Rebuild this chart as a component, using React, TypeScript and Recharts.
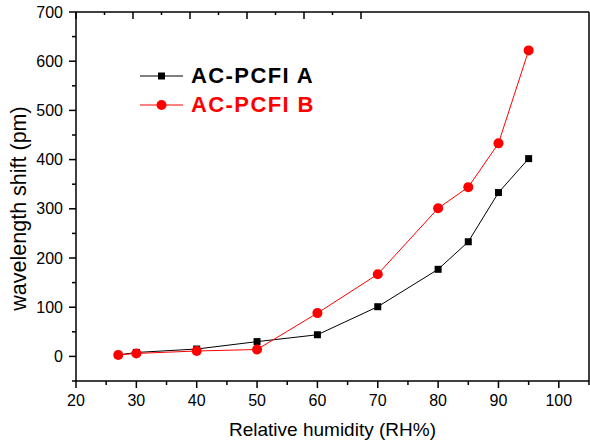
import { LineChart, Line, XAxis, YAxis, Legend } from 'recharts'

// relative humidity (RH%) and wavelength shift (pm)
const humidity = [27, 30, 40, 50, 60, 70, 80, 85, 90, 95]
const shiftA = [3, 8, 15, 30, 44, 101, 177, 233, 333, 402]
const shiftB = [3, 6, 11, 14, 88, 167, 301, 344, 433, 622]

const xTicks = [20, 25, 30, 35, 40, 45, 50, 55, 60, 65, 70, 75, 80, 85, 90, 95, 100, 105]
const yTicks = [-50, 0, 50, 100, 150, 200, 250, 300, 350, 400, 450, 500, 550, 600, 650, 700]
const frameTicks = [0, 0.5, 1, 1.5, 2, 2.5, 3, 3.5, 4, 4.5, 5]

const seriesNames = ['AC-PCFI A', 'AC-PCFI B']
const seriesColors = ['#000000', '#ff0000']

const data = humidity.map((h, i) => ({ rh: h, a: shiftA[i], b: shiftB[i] }))

const FONT = '"Liberation Sans", Arial, sans-serif'

const BottomTick = (props: any) => {
  const { x, y, payload } = props
  const v = payload.value
  const major = v % 10 === 0
  return (
    <g>
      <line x1={x} x2={x} y1={y} y2={y + (major ? 7 : 4)} stroke="#000" strokeWidth={1.5} />
      {major && v <= 100 && (
        <text x={x} y={y + 19} textAnchor="middle" dominantBaseline="central" fontSize={16} fontFamily={FONT} fill="#000">
          {v}
        </text>
      )}
    </g>
  )
}

const LeftTick = (props: any) => {
  const { x, y, payload } = props
  const v = payload.value
  const major = v % 100 === 0
  return (
    <g>
      <line x1={x - (major ? 7 : 4)} x2={x} y1={y} y2={y} stroke="#000" strokeWidth={1.5} />
      {major && (
        <text x={x - 13} y={y} textAnchor="end" dominantBaseline="central" fontSize={16} fontFamily={FONT} fill="#000">
          {v}
        </text>
      )}
    </g>
  )
}

// mirror axes: ticks point into the plot, no labels
const TopTick = (props: any) => {
  const { x, y, payload } = props
  const major = payload.value % 1 === 0
  return <line x1={x} x2={x} y1={y} y2={y + (major ? 7 : 3)} stroke="#000" strokeWidth={1.5} />
}

const RightTick = (props: any) => {
  const { x, y, payload } = props
  const major = payload.value % 1 === 0
  return <line x1={x - (major ? 7 : 4)} x2={x} y1={y} y2={y} stroke="#000" strokeWidth={1.5} />
}

const SquareDot = (props: any) => {
  const { cx, cy, index } = props
  if (cx == null || cy == null) return <g key={index} />
  return <rect key={index} x={cx - 3.5} y={cy - 3.5} width={7} height={7} fill="#000" />
}

const CircleDot = (props: any) => {
  const { cx, cy, index } = props
  if (cx == null || cy == null) return <g key={index} />
  return <circle key={index} cx={cx} cy={cy} r={5} fill="#ff0000" />
}

const YTitle = (props: any) => {
  const { viewBox } = props
  const cx = viewBox.x + 19
  const cy = viewBox.y + viewBox.height / 2 + 12
  return (
    <text x={cx} y={cy} transform={`rotate(-90 ${cx} ${cy})`} textAnchor="middle" dominantBaseline="central" fontSize={21.5} fontFamily={FONT} fill="#000">
      wavelength shift (pm)
    </text>
  )
}

const XTitle = (props: any) => {
  const { viewBox } = props
  const cx = viewBox.x + viewBox.width / 2
  const cy = viewBox.y + 48
  return (
    <text x={cx} y={cy} textAnchor="middle" dominantBaseline="central" fontSize={19} fontFamily={FONT} fill="#000">
      Relative humidity (RH%)
    </text>
  )
}

const LegendBox = () => (
  <div>
    {seriesNames.map((name, i) => (
      <div key={name} style={{ display: 'flex', alignItems: 'center', height: 29.5 }}>
        <svg width={43} height={20}>
          <line x1={0} x2={43} y1={10} y2={10} stroke={seriesColors[i]} strokeWidth={1} />
          {i === 0 ? <rect x={18} y={6.5} width={7} height={7} fill="#000" /> : <circle cx={21.5} cy={10} r={5} fill="#ff0000" />}
        </svg>
        <span style={{ marginLeft: 8, fontFamily: FONT, fontWeight: 'bold', fontSize: 22, letterSpacing: 1.4, color: seriesColors[i], lineHeight: 1 }}>
          {name}
        </span>
      </div>
    ))}
  </div>
)

export default function App() {
  return (
    <div style={{ position: 'absolute', left: 0, top: 0, width: 590, height: 441, background: '#fff' }}>
      <LineChart width={590} height={441} data={data} margin={{ top: 0, right: 0, bottom: 0, left: 0 }}>
        <XAxis
          xAxisId="bottom"
          dataKey="rh"
          type="number"
          domain={[20, 105]}
          ticks={xTicks}
          interval={0}
          height={60}
          tickSize={0}
          tickMargin={0}
          tickLine={false}
          tick={<BottomTick />}
          axisLine={{ stroke: '#000', strokeWidth: 1.5 }}
          label={<XTitle />}
        />
        <XAxis
          xAxisId="top"
          orientation="top"
          type="number"
          domain={[0, 5]}
          ticks={frameTicks}
          interval={0}
          height={12}
          tickSize={0}
          tickMargin={0}
          tickLine={false}
          tick={<TopTick />}
          axisLine={{ stroke: '#000', strokeWidth: 1.5 }}
        />
        <YAxis
          yAxisId="left"
          type="number"
          domain={[-50, 700]}
          ticks={yTicks}
          interval={0}
          width={76}
          tickSize={0}
          tickMargin={0}
          tickLine={false}
          tick={<LeftTick />}
          axisLine={{ stroke: '#000', strokeWidth: 1.5 }}
          label={<YTitle />}
        />
        <YAxis
          yAxisId="right"
          orientation="right"
          type="number"
          domain={[0, 5]}
          ticks={frameTicks}
          interval={0}
          width={1}
          tickSize={0}
          tickMargin={0}
          tickLine={false}
          tick={<RightTick />}
          axisLine={{ stroke: '#000', strokeWidth: 1.5 }}
        />
        <Legend
          layout="vertical"
          align="center"
          verticalAlign="middle"
          content={<LegendBox />}
          wrapperStyle={{ position: 'absolute', left: 140, top: 61, width: 220 }}
        />
        <Line
          xAxisId="bottom"
          yAxisId="left"
          dataKey="a"
          name={seriesNames[0]}
          stroke={seriesColors[0]}
          strokeWidth={1}
          dot={<SquareDot />}
          activeDot={false}
          isAnimationActive={false}
        />
        <Line
          xAxisId="bottom"
          yAxisId="left"
          dataKey="b"
          name={seriesNames[1]}
          stroke={seriesColors[1]}
          strokeWidth={1}
          dot={<CircleDot />}
          activeDot={false}
          isAnimationActive={false}
        />
      </LineChart>
    </div>
  )
}
